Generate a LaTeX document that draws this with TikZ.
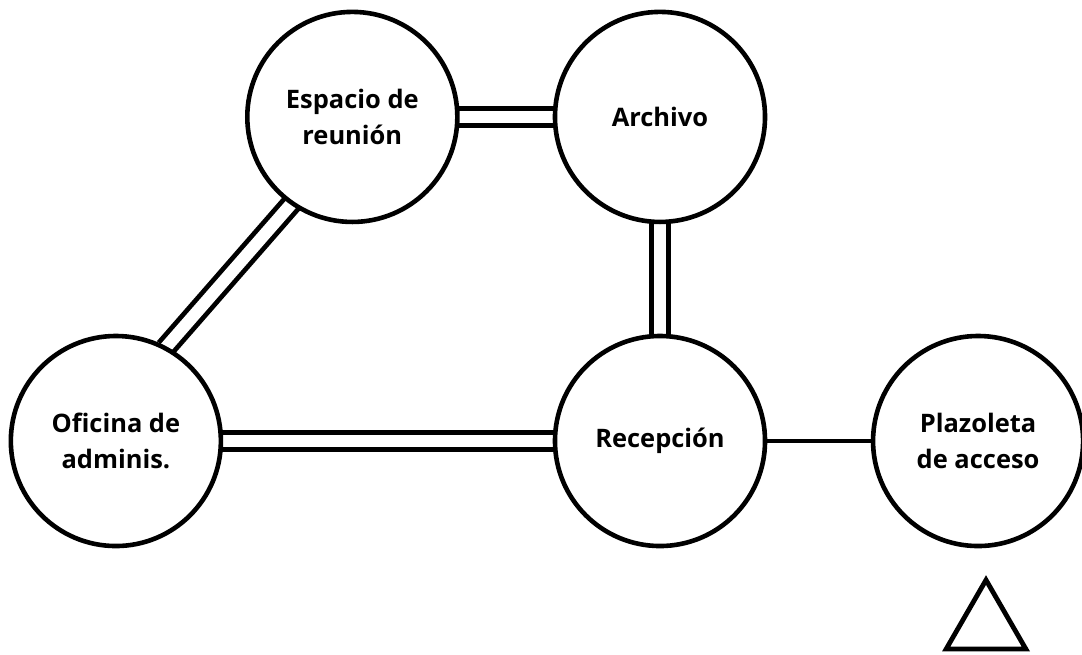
\documentclass[tikz,border=0pt]{standalone}
\usepackage{fontspec}
\setmainfont{Open Sans}
\usepackage{tikz}
\usetikzlibrary{positioning,shapes.geometric,backgrounds}

\begin{document}
\begin{tikzpicture}[
  x=0.025cm, y=-0.025cm,
  % --- Styles ---
  room/.style={
    circle, draw=black, line width=1.15mm, fill=white,
    minimum size=5.25cm, inner sep=0pt, outer sep=0pt,
    align=center, font=\fontsize{18.1}{25.6}\selectfont\bfseries
  },
  link/.style={line width=1.2mm, double=white, double distance=3.05mm},
  plain/.style={line width=1.1mm},
  entrada/.style={regular polygon, regular polygon sides=3, draw=black,
    line width=1.2mm, minimum size=2.3cm, inner sep=0pt, outer sep=0pt}
]
\useasboundingbox (0,0) rectangle (1082,654);

% ---- Lower row ----
\node[room] (rec) at (660,441) {Recepción};
\node[room, left=8.35cm of rec]  (ofi)  {Oficina de\\adminis.};
\node[room, right=2.7cm of rec]  (plaz) {Plazoleta\\de acceso};

% ---- Upper row ----
\node[room, above=2.85cm of rec]  (arch) {Archivo};
\node[room, left=2.44cm of arch]  (esp)  {Espacio de\\reunión};

% ---- Access marker ----
\node[entrada] (acc) at (986,626) {};

% ---- Connections ----
\begin{scope}[on background layer]
  \draw[link] (esp) -- (arch);
  \draw[link] (arch) -- (rec);
  \draw[link] (ofi) -- (rec);
  \draw[link] (esp.235) -- (ofi.62);
  \draw[plain] (rec) -- (plaz);
\end{scope}

\end{tikzpicture}
\end{document}
